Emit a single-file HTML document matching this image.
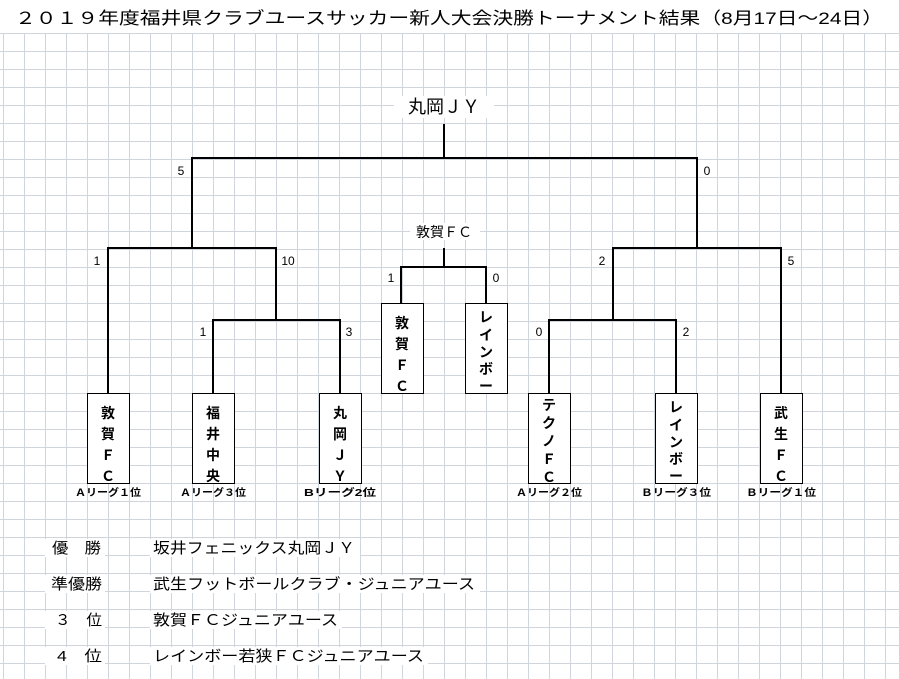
<!DOCTYPE html>
<html><head><meta charset="utf-8"><style>
html,body{margin:0;padding:0;background:#fff;}
svg{display:block;}
text{font-family:"Liberation Sans","Noto Sans CJK JP",sans-serif;fill:#000;}
</style></head><body>
<svg width="899" height="679" viewBox="0 0 899 679" xmlns="http://www.w3.org/2000/svg">
<defs>
<pattern id="g" x="3" y="33" width="21" height="18" patternUnits="userSpaceOnUse">
<path d="M0.5 0V18M0 0.5H21" stroke="#d0d4dc" stroke-width="1" fill="none"/>
</pattern>
</defs>
<rect x="0" y="33" width="899" height="646" fill="url(#g)"/>
<rect x="0" y="0" width="899" height="33" fill="#fff"/>
<text x="15" y="24" font-size="17" textLength="868" lengthAdjust="spacingAndGlyphs">２０１９年度福井県クラブユースサッカー新人大会決勝トーナメント結果（8月17日～24日）</text>

<g fill="#fff">
<rect x="394" y="96" width="100" height="22"/>
<rect x="410" y="223" width="70" height="17"/>
<rect x="45" y="539" width="60" height="18"/>
<rect x="150" y="539" width="210" height="18"/>
<rect x="45" y="575" width="60" height="18"/>
<rect x="150" y="575" width="330" height="18"/>
<rect x="45" y="611" width="60" height="18"/>
<rect x="150" y="611" width="192" height="18"/>
<rect x="45" y="647" width="60" height="18"/>
<rect x="150" y="647" width="278" height="18"/>
</g>

<g stroke="#000" stroke-width="2" fill="none">
<path d="M444 124V158M192 248V158H697V248"/>
<path d="M108 393V248H276V320M213 393V320H340V393"/>
<path d="M444 248V267M401 303V267H486V303"/>
<path d="M613 320V248H781V393M549 393V320H676V393"/>
</g>
<g stroke="#000" stroke-width="1" fill="#fff">
<rect x="87.5" y="393.5" width="42" height="90"/>
<rect x="192.5" y="393.5" width="42" height="90"/>
<rect x="319.5" y="393.5" width="42" height="90"/>
<rect x="528.5" y="393.5" width="42" height="90"/>
<rect x="655.5" y="393.5" width="42" height="90"/>
<rect x="760.5" y="393.5" width="42" height="90"/>
<rect x="381.5" y="303.5" width="42" height="90"/>
<rect x="465.5" y="303.5" width="42" height="90"/>
</g>

<text x="444" y="113" font-size="18" text-anchor="middle">丸岡ＪＹ</text>
<text x="444" y="237" font-size="14" text-anchor="middle">敦賀ＦＣ</text>

<g font-size="12" text-anchor="middle">
<text x="181" y="175">5</text><text x="707" y="175">0</text>
<text x="97" y="265">1</text><text x="288" y="265">10</text>
<text x="203" y="336">1</text><text x="349" y="336">3</text>
<text x="391" y="282">1</text><text x="496" y="282">0</text>
<text x="602" y="265">2</text><text x="791" y="265">5</text>
<text x="539" y="336">0</text><text x="686" y="336">2</text>
</g>

<g font-size="14" text-anchor="middle" font-weight="bold">
<text x="108" y="418">敦</text><text x="108" y="439">賀</text><text x="108" y="460">Ｆ</text><text x="108" y="481">Ｃ</text>
<text x="213" y="418">福</text><text x="213" y="439">井</text><text x="213" y="460">中</text><text x="213" y="481">央</text>
<text x="340" y="418">丸</text><text x="340" y="439">岡</text><text x="340" y="460">Ｊ</text><text x="340" y="481">Ｙ</text>
<text x="402" y="328">敦</text><text x="402" y="349">賀</text><text x="402" y="370">Ｆ</text><text x="402" y="391">Ｃ</text>
<text x="486" y="322">レ</text><text x="486" y="340">イ</text><text x="486" y="357">ン</text><text x="486" y="374">ボ</text><text x="486" y="391">ー</text>
<text x="549" y="410">テ</text><text x="549" y="428">ク</text><text x="549" y="446">ノ</text><text x="549" y="464">Ｆ</text><text x="549" y="482">Ｃ</text>
<text x="676" y="412">レ</text><text x="676" y="430">イ</text><text x="676" y="447">ン</text><text x="676" y="464">ボ</text><text x="676" y="481">ー</text>
<text x="781" y="418">武</text><text x="781" y="439">生</text><text x="781" y="460">Ｆ</text><text x="781" y="481">Ｃ</text>
</g>

<g font-size="10" text-anchor="middle" font-weight="bold">
<text x="108" y="496" textLength="66" lengthAdjust="spacingAndGlyphs">Ａリーグ１位</text>
<text x="213" y="496" textLength="66" lengthAdjust="spacingAndGlyphs">Ａリーグ３位</text>
<text x="340" y="496" textLength="72" lengthAdjust="spacingAndGlyphs">Bリーグ2位</text>
<text x="549" y="496" textLength="66" lengthAdjust="spacingAndGlyphs">Ａリーグ２位</text>
<text x="676" y="496" textLength="70" lengthAdjust="spacingAndGlyphs">Ｂリーグ３位</text>
<text x="781" y="496" textLength="70" lengthAdjust="spacingAndGlyphs">Ｂリーグ１位</text>
</g>

<g font-size="15">
<text x="52" y="553" textLength="49" lengthAdjust="spacingAndGlyphs">優　勝</text>
<text x="51" y="589" textLength="51" lengthAdjust="spacingAndGlyphs">準優勝</text>
<text x="55" y="625" textLength="47" lengthAdjust="spacingAndGlyphs">３　位</text>
<text x="57" y="661" textLength="45" lengthAdjust="spacingAndGlyphs">4　位</text>
<text x="153" y="553" textLength="202" lengthAdjust="spacingAndGlyphs">坂井フェニックス丸岡ＪＹ</text>
<text x="153" y="589" textLength="322" lengthAdjust="spacingAndGlyphs">武生フットボールクラブ・ジュニアユース</text>
<text x="153" y="625" textLength="185" lengthAdjust="spacingAndGlyphs">敦賀ＦＣジュニアユース</text>
<text x="153" y="661" textLength="271" lengthAdjust="spacingAndGlyphs">レインボー若狭ＦＣジュニアユース</text>
</g>
</svg>
</body></html>
